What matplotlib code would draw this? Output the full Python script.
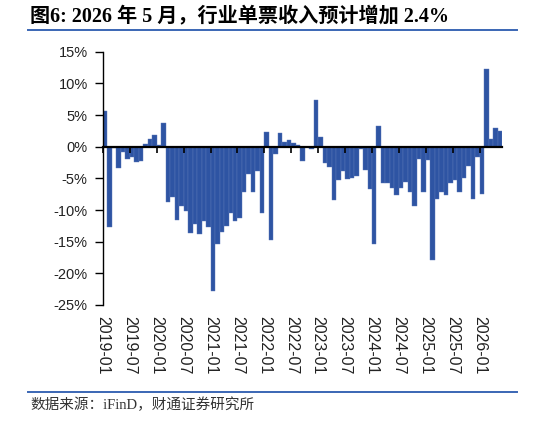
#!/usr/bin/env python3
'''
Monthly change of per-parcel revenue, 2019-01 .. 2026-05.
'''

import numpy
import matplotlib
matplotlib.use("Agg")
import matplotlib.pyplot as plt
import matplotlib.transforms as mtransforms
from matplotlib.lines import Line2D

plt.rcParams['font.family'] = ['Liberation Sans', 'Noto Sans CJK SC']
plt.rcParams['axes.unicode_minus'] = True

title = "图6: 2026 年 5 月，行业单票收入预计增加 2.4%"
source = "数据来源：iFinD，财通证券研究所"

# change in %, one value per month from 2019-01
start_year, start_month = 2019, 1
values = [
    5.7, -12.7, -0.2, -3.3, -0.9, -2.0, -1.7, -2.4, -2.2, 0.4, 1.2, 1.9,
    0.3, 3.8, -8.8, -7.9, -11.5, -9.4, -10.1, -13.6, -12.2, -13.8, -11.8, -12.7,
    -22.8, -15.3, -13.4, -12.6, -10.4, -11.8, -11.2, -7.1, -4.3, -7.2, -3.8, -10.5,
    2.3, -14.8, -1.1, 2.1, 0.7, 1.1, 0.6, 0.3, -2.3, -0.1, -0.3, 7.4,
    1.5, -2.6, -3.2, -8.4, -5.3, -3.9, -5.1, -5.0, -4.7, -0.4, -3.7, -6.7,
    -15.4, 3.2, -5.7, -5.7, -6.6, -7.7, -6.6, -5.5, -7.1, -9.4, -1.9, -7.1,
    -2.1, -17.9, -8.2, -7.1, -7.6, -5.8, -5.3, -7.2, -4.9, -3.1, -8.3, -1.6,
    -7.4, 12.2, 1.2, 2.9, 2.4,
]
yticks = [15, 10, 5, 0, -5, -10, -15, -20, -25]
tick_every = 6

bar_color = "#2E54A3"
line_color = "#3A66B4"


def month_labels(n):
    labels = []
    for i in range(n):
        y = start_year + (start_month - 1 + i) // 12
        m = (start_month - 1 + i) % 12 + 1
        labels.append(f"{y}-{m:02d}")
    return labels


def main():
    n = len(values)
    labels = month_labels(n)
    vals = numpy.array(values)

    fig = plt.figure(figsize=(5.33, 4.21), dpi=100)
    ax = fig.add_axes([103 / 533, 1 - 305 / 421, 399 / 533, (305 - 51.7) / 421])

    x = numpy.arange(n) + 0.5
    ax.bar(x, vals, width=1.0, color=bar_color, edgecolor="#5A78B8",
           linewidth=0.3)

    ax.set_xlim(0, n)
    ax.set_ylim(-25, 15)

    for s in ('top', 'right'):
        ax.spines[s].set_visible(False)
    ax.spines['bottom'].set_position(('data', 0))
    ax.spines['bottom'].set_linewidth(1.6)
    ax.spines['bottom'].set_zorder(3)
    ax.spines['left'].set_linewidth(1.0)

    ax.set_yticks(yticks)
    ax.set_yticklabels([f"{t}%" for t in yticks], fontsize=10.5, color="#222222")
    ax.tick_params(axis='y', direction='out', length=6, width=1, pad=5)

    ticks = numpy.arange(0, n, tick_every)
    ax.set_xticks(ticks)
    ax.set_xticklabels([])
    ax.tick_params(axis='x', direction='out', length=4, width=1.2)

    trans = mtransforms.blended_transform_factory(ax.transData, ax.transAxes)
    for t in ticks:
        ax.text(t, -0.045, labels[t], transform=trans, rotation=-90,
                ha='center', va='top', fontsize=11.5, color="#222222")

    # title, rules and source
    fig.text(30 / 533, 1 - 16 / 421, title, fontsize=14.5, fontweight='bold',
             family=['Liberation Serif', 'Noto Sans CJK SC'],
             ha='left', va='center', color="black")
    for yy in (29.5, 391.7):
        fig.add_artist(Line2D([28 / 533, 517 / 533], [1 - yy / 421] * 2,
                              color=line_color, linewidth=1.4))
    fig.text(30 / 533, 1 - 405 / 421, source, fontsize=10.5,
             family=['Liberation Serif', 'Noto Sans CJK SC'],
             ha='left', va='center', color="#333333")

    fig.savefig("out.png", dpi=100)


if '__main__' == __name__:
    main()
